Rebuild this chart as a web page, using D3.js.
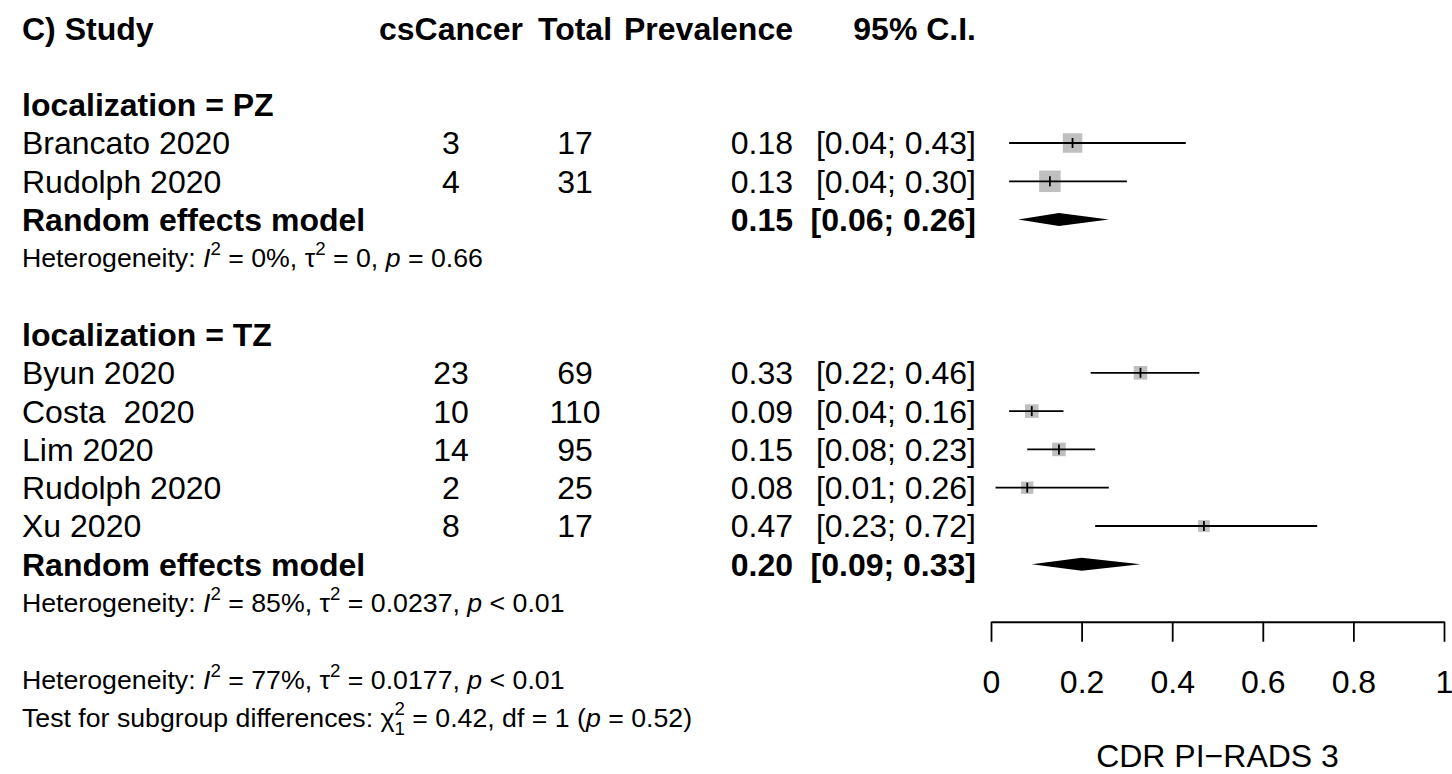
<!DOCTYPE html>
<html>
<head>
<meta charset="utf-8">
<script src="https://cdn.jsdelivr.net/npm/d3@7"></script>
<style>
  html, body { margin: 0; padding: 0; background: #fff; }
  svg { display: block; font-family: "Liberation Sans", Arial, Helvetica, sans-serif; }
</style>
</head>
<body>
<svg id="chart" width="1452" height="774"></svg>
<script>
// ---- data ----
const groups       = ["PZ", "TZ"];
const studyNames   = ["Brancato 2020", "Rudolph 2020", "Byun 2020", "Costa  2020", "Lim 2020", "Rudolph 2020", "Xu 2020"];
const studyGroup   = ["PZ", "PZ", "TZ", "TZ", "TZ", "TZ", "TZ"];
const cases        = [3, 4, 23, 10, 14, 2, 8];
const totals       = [17, 31, 69, 110, 95, 25, 17];
const prevalence   = [0.18, 0.13, 0.33, 0.09, 0.15, 0.08, 0.47];
const ciLower      = [0.04, 0.04, 0.22, 0.04, 0.08, 0.01, 0.23];
const ciUpper      = [0.43, 0.30, 0.46, 0.16, 0.23, 0.26, 0.72];
const weights      = [45.0, 55.0, 21.9, 21.9, 21.9, 18.0, 16.3];   // % weight within subgroup

const pooledPrev   = [0.15, 0.20];
const pooledLower  = [0.06, 0.09];
const pooledUpper  = [0.26, 0.33];

const hetI2        = ["0%", "85%"];
const hetTau2      = ["0", "0.0237"];
const hetP         = ["= 0.66", "< 0.01"];
const overallI2    = "77%";
const overallTau2  = "0.0177";
const overallP     = "< 0.01";
const diffChi2     = "0.42";
const diffDf       = "1";
const diffP        = "0.52";

const tickValues   = [0, 0.2, 0.4, 0.6, 0.8, 1];
const headers      = ["C) Study", "csCancer", "Total", "Prevalence", "95% C.I."];
const xLabel       = "CDR PI\u2212RADS 3";

// ---- layout ----
const svg = d3.select("#chart");
const FS = 32;          // main text size
const FSH = 26.7;       // heterogeneity text size
const rowH = 38.3;
const row0 = 104.7;
const rowY = i => row0 + i * rowH;

const colStudy = 22, colCases = 451, colTotal = 575, colPrev = 793, colCI = 976;

const x = d3.scaleLinear().domain([0, 1]).range([991, 1444]);
const side = d3.scaleSqrt().domain([0, 100]).range([0, 29]);

const g = svg.append("g");

function label(txt, xx, y, anchor, bold, size) {
  return g.append("text")
    .attr("x", xx)
    .attr("y", y + (size || FS) * 0.358)
    .attr("text-anchor", anchor)
    .attr("font-size", size || FS)
    .attr("font-weight", bold ? "bold" : "normal")
    .style("white-space", "pre")
    .text(txt);
}

function richText(xx, y, size, parts) {
  const t = g.append("text")
    .attr("x", xx)
    .attr("y", y + size * 0.358)
    .attr("font-size", size)
    .style("white-space", "pre");
  let shift = 0;
  parts.forEach(p => {
    const s = t.append("tspan").text(p.t);
    let target = 0;
    if (p.sup) target = -0.45 * size;
    if (p.sub) target = 0.28 * size;
    if (p.sup || p.sub) s.attr("font-size", size * 0.7);
    if (p.it) s.attr("font-style", "italic");
    if (p.dx) s.attr("dx", p.dx);
    if (target !== shift) { s.attr("dy", target - shift); shift = target; }
  });
  return t;
}

function hetParts(i2, tau2, p) {
  return [
    { t: "Heterogeneity: " }, { t: "I", it: true }, { t: "2", sup: true },
    { t: " = " + i2 + ", \u03c4" }, { t: "2", sup: true },
    { t: " = " + tau2 + ", " }, { t: "p", it: true }, { t: " " + p }
  ];
}

// header row
const headerY = rowY(-2);
label(headers[0], colStudy, headerY, "start", true);
label(headers[1], colCases, headerY, "middle", true);
label(headers[2], colTotal, headerY, "middle", true);
label(headers[3], colPrev, headerY, "end", true);
label(headers[4], colCI, headerY, "end", true);

const fmt = d3.format(".2f");
const ciText = (lo, hi) => "[" + fmt(lo) + "; " + fmt(hi) + "]";

let r = 0;
groups.forEach((grp, gi) => {
  label("localization = " + grp, colStudy, rowY(r), "start", true);
  r++;
  studyNames.forEach((name, i) => {
    if (studyGroup[i] !== grp) return;
    const y = rowY(r);
    label(name, colStudy, y, "start", false);
    label(String(cases[i]), colCases, y, "middle", false);
    label(String(totals[i]), colTotal, y, "middle", false);
    label(fmt(prevalence[i]), colPrev, y, "end", false);
    label(ciText(ciLower[i], ciUpper[i]), colCI, y, "end", false);

    const s = side(weights[i]);
    g.append("rect")
      .attr("x", x(prevalence[i]) - s / 2)
      .attr("y", y - s / 2)
      .attr("width", s).attr("height", s)
      .attr("fill", "#bfbfbf");
    g.append("line")
      .attr("x1", x(ciLower[i])).attr("x2", x(ciUpper[i]))
      .attr("y1", y).attr("y2", y)
      .attr("stroke", "#000").attr("stroke-width", 1.8);
    g.append("line")
      .attr("x1", x(prevalence[i])).attr("x2", x(prevalence[i]))
      .attr("y1", y - 5).attr("y2", y + 5)
      .attr("stroke", "#000").attr("stroke-width", 1.8);
    r++;
  });
  // pooled estimate
  const y = rowY(r);
  label("Random effects model", colStudy, y, "start", true);
  label(fmt(pooledPrev[gi]), colPrev, y, "end", true);
  label(ciText(pooledLower[gi], pooledUpper[gi]), colCI, y, "end", true);
  const h = 6.5;
  g.append("path")
    .attr("d", `M${x(pooledLower[gi])},${y}L${x(pooledPrev[gi])},${y - h}L${x(pooledUpper[gi])},${y}L${x(pooledPrev[gi])},${y + h}Z`)
    .attr("fill", "#000");
  r++;
  richText(colStudy, rowY(r), FSH, hetParts(hetI2[gi], hetTau2[gi], hetP[gi]));
  r += 2;
});

// overall heterogeneity and subgroup test
const overallRow = r;
richText(colStudy, rowY(overallRow), FSH, hetParts(overallI2, overallTau2, overallP));
richText(colStudy, rowY(overallRow + 1), FSH, [
  { t: "Test for subgroup differences: \u03c7" },
  { t: "2", sup: true },
  { t: "1", sub: true, dx: -0.556 * 0.7 * FSH },
  { t: " = " + diffChi2 + ", df = " + diffDf + " (" },
  { t: "p", it: true },
  { t: " = " + diffP + ")" }
]);

// x axis
const axisY = (rowY(overallRow - 2) + rowY(overallRow - 1)) / 2;
const axisG = svg.append("g")
  .attr("transform", `translate(0,${axisY})`)
  .call(d3.axisBottom(x)
    .tickValues(tickValues)
    .tickFormat(d3.format("~g"))
    .tickSize(20)
    .tickSizeOuter(0)
    .tickPadding(29));
axisG.select(".domain").attr("stroke", "#000").attr("stroke-width", 1.8);
axisG.selectAll(".tick line").attr("stroke", "#000").attr("stroke-width", 1.8);
axisG.selectAll(".tick text")
  .attr("font-size", FS)
  .attr("font-family", "\"Liberation Sans\", Arial, Helvetica, sans-serif")
  .attr("fill", "#000");

label(xLabel, x(0.5), rowY(overallRow + 2), "middle", false);
</script>
</body>
</html>
